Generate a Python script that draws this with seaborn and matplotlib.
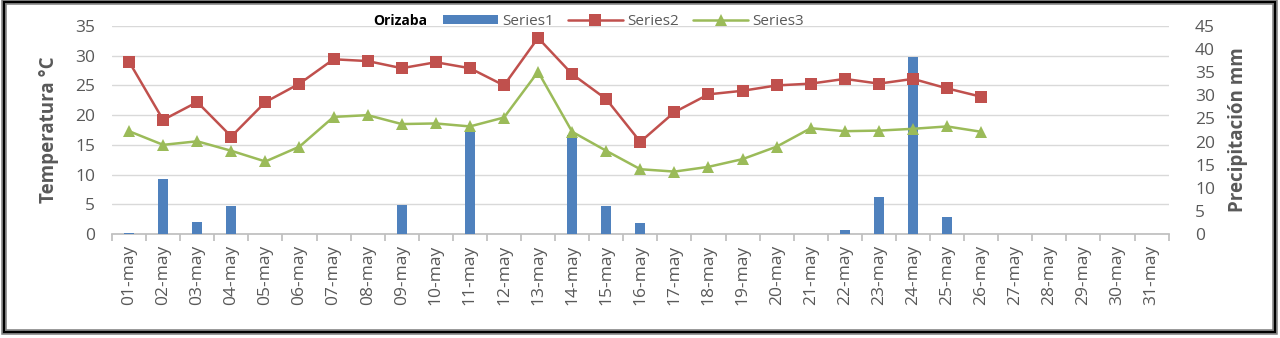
import numpy as np
import pandas as pd
import matplotlib
matplotlib.use("Agg")
import matplotlib.pyplot as plt
from matplotlib.patches import Rectangle, Patch
from matplotlib.lines import Line2D
import seaborn as sns

# Daily data for May
dias = [f"{d:02d}-may" for d in range(1, 32)]
precipitacion = [0.3, 11.8, 2.5, 6.1, 0, 0, 0, 0, 6.3, 0, 22.1, 0, 0, 21.4, 6.1, 2.4,
                 0, 0, 0, 0, 0, 0.9, 8.1, 38.2, 3.7, 0, 0, 0, 0, 0, 0]
temp_max = [29.0, 19.2, 22.2, 16.4, 22.2, 25.3, 29.4, 29.1, 27.9, 28.9, 27.9, 25.0, 33.0,
            26.9, 22.7, 15.5, 20.5, 23.5, 24.1, 25.0, 25.3, 26.1, 25.3, 26.1, 24.5, 23.1,
            np.nan, np.nan, np.nan, np.nan, np.nan]
temp_min = [17.3, 15.0, 15.6, 14.0, 12.2, 14.7, 19.7, 20.0, 18.5, 18.6, 18.1, 19.6, 27.3,
            17.2, 14.0, 10.9, 10.5, 11.3, 12.6, 14.7, 17.8, 17.3, 17.4, 17.7, 18.1, 17.2,
            np.nan, np.nan, np.nan, np.nan, np.nan]

df = pd.DataFrame({
    "pos": np.arange(len(dias)),
    "dia": dias,
    "Series1": precipitacion,
    "Series2": temp_max,
    "Series3": temp_min,
})

sns.set_theme(style="white")
plt.rcParams["font.family"] = ["Open Sans", "DejaVu Sans"]

GRAY = "#595959"
BLUE = "#4F81BD"
RED = "#C0504D"
GREEN = "#9BBB59"

fig = plt.figure(figsize=(12.8, 3.38), dpi=100)
ax = fig.add_axes([0.0875, 0.3077, 0.8255, 0.6154])

# Temperature axis (left) carries the grid
ax.set_ylim(0, 35)
ax.set_yticks(np.arange(0, 36, 5))
ax.set_xlim(-0.5, len(dias) - 0.5)
ax.grid(axis="y", color="#D9D9D9", linewidth=1.0)
ax.set_axisbelow(True)
for s in ["top", "right", "left"]:
    ax.spines[s].set_visible(False)
ax.spines["bottom"].set_color("#BFBFBF")
ax.set_xticks(np.arange(-0.5, len(dias), 1.0), minor=False)
ax.set_xticklabels([])
ax.tick_params(axis="x", which="major", length=5, color="#BFBFBF", bottom=True, direction="out")
ax.set_xticks(df["pos"], minor=True)
ax.set_xticklabels(dias, minor=True, rotation=90, fontsize=12.5, color=GRAY)
ax.tick_params(axis="x", which="minor", length=0, pad=8)
ax.tick_params(axis="y", labelsize=12.5, colors=GRAY, length=0, pad=12)
ax.set_ylabel("Temperatura °C", fontsize=13.5, fontweight="bold", color=GRAY, labelpad=12)

# Precipitation bars (right axis)
ax2 = ax.twinx()
sns.barplot(data=df, x="pos", y="Series1", ax=ax2, color=BLUE, width=0.3,
            saturation=1, native_scale=True, edgecolor="none")
ax2.set_ylim(0, 45)
ax2.set_yticks(np.arange(0, 46, 5))
ax2.set_xlim(-0.5, len(dias) - 0.5)
for s in ax2.spines.values():
    s.set_visible(False)
ax2.tick_params(axis="y", labelsize=12.5, colors=GRAY, length=0, pad=19)
ax2.set_ylabel("Precipitación mm", fontsize=13.5, fontweight="bold", color=GRAY, labelpad=9)
ax2.set_xlabel("")

# Temperature lines drawn on top of the bars
ax3 = ax.twinx()
sns.lineplot(data=df, x="pos", y="Series2", ax=ax3, color=RED, marker="s",
             markersize=8, markeredgewidth=0, linewidth=1.8)
sns.lineplot(data=df, x="pos", y="Series3", ax=ax3, color=GREEN, marker="^",
             markersize=9, markeredgewidth=0, linewidth=1.8)
ax3.set_ylim(0, 35)
ax3.set_xlim(-0.5, len(dias) - 0.5)
ax3.set_yticks([])
ax3.set_ylabel("")
ax3.set_xlabel("")
for s in ax3.spines.values():
    s.set_visible(False)

# Title and legend along the top
fig.text(0.2915, 0.937, "Orizaba", fontsize=10, fontweight="bold", color="black",
         ha="left", va="center")
handles = [
    Patch(facecolor=BLUE, edgecolor="none", label="Series1"),
    Line2D([], [], color=RED, marker="s", markersize=8, markeredgewidth=0, linewidth=1.8, label="Series2"),
    Line2D([], [], color=GREEN, marker="^", markersize=9, markeredgewidth=0, linewidth=1.8, label="Series3"),
]
leg = fig.legend(handles=handles, loc="center left", bbox_to_anchor=(0.346, 0.937),
                 ncol=3, frameon=False, fontsize=11, handlelength=3.6, handleheight=0.6,
                 columnspacing=0.9, handletextpad=0.3, borderpad=0, borderaxespad=0)
for t in leg.get_texts():
    t.set_color(GRAY)

# Frame around the chart
fig.patches.append(Rectangle((0.003, 0.018), 0.993, 0.976, transform=fig.transFigure,
                             fill=False, edgecolor="#7F7F7F", linewidth=4, zorder=10))
fig.patches.append(Rectangle((0.003, 0.018), 0.993, 0.976, transform=fig.transFigure,
                             fill=False, edgecolor="black", linewidth=1.5, zorder=11))

fig.savefig("out.png", dpi=100)
